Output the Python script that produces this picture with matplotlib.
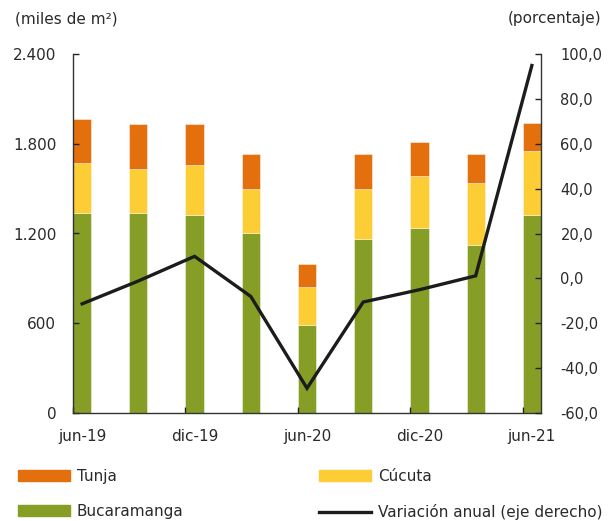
import matplotlib
matplotlib.use("Agg")
import matplotlib.pyplot as plt
import numpy as np
from matplotlib.patches import Patch
from matplotlib.lines import Line2D

categories = ["jun-19", "sep-19", "dic-19", "mar-20", "jun-20", "sep-20", "dic-20", "mar-21", "jun-21"]
bucaramanga = [1340, 1340, 1325, 1205, 590, 1165, 1235, 1125, 1325]
cucuta = [335, 295, 335, 295, 255, 335, 350, 415, 430]
tunja = [295, 295, 270, 230, 150, 230, 225, 190, 185]
variacion = [-11.4, -1.2, 9.8, -8.1, -49.1, -10.6, -5.1, 1.1, 95.0]

left_ticks = [0, 600, 1200, 1800, 2400]
left_labels = ["0", "600", "1.200", "1.800", "2.400"]
right_ticks = [-60, -40, -20, 0, 20, 40, 60, 80, 100]
right_labels = ["-60,0", "-40,0", "-20,0", "0,0", "20,0", "40,0", "60,0", "80,0", "100,0"]

c_tun = "#E3700D"
c_cuc = "#FDCD35"
c_buc = "#879E26"
c_line = "#1c1c1c"
c_text = "#2a2a2a"

plt.rcParams["font.family"] = ["DejaVu Sans"]
W, H = 614, 521
fig = plt.figure(figsize=(W / 100, H / 100), dpi=100)
ax = fig.add_axes([73 / W, (H - 412.7) / H, (541 - 73) / W, (412.7 - 54.3) / H])

x = np.arange(len(categories))
bw = 0.325
b = np.array(bucaramanga)
c = np.array(cucuta)
t = np.array(tunja)
kw = dict(width=bw, edgecolor=(1, 1, 1, 0.5), linewidth=0.6)
ax.bar(x, b, color=c_buc, **kw)
ax.bar(x, c, bottom=b, color=c_cuc, **kw)
ax.bar(x, t, bottom=b + c, color=c_tun, **kw)

half = bw / 2
ax.set_xlim(-half, len(categories) - 1 + half)
ax.set_ylim(0, 2400)
ax.set_yticks(left_ticks)
ax.set_yticklabels(left_labels)
ax.set_xticks(x[::2])
ax.set_xticklabels(categories[::2])
ax.set_xticks(x[::2] - half, minor=True)
ax.tick_params(axis="x", which="major", length=0, pad=12, labelsize=11, colors=c_text)
ax.tick_params(axis="x", which="minor", direction="in", length=4, width=1, color="#222222")
ax.tick_params(axis="y", direction="in", length=4, width=1, pad=12, labelsize=11, colors=c_text, color="#222222")

for s in ["top", "right"]:
    ax.spines[s].set_visible(False)
for s in ["left", "bottom"]:
    ax.spines[s].set_color("#333333")
    ax.spines[s].set_linewidth(1.0)

ax2 = ax.twinx()
ax2.plot(x, variacion, color=c_line, linewidth=2.4, solid_joinstyle="miter")
ax2.set_ylim(-60, 100)
ax2.set_yticks(right_ticks)
ax2.set_yticklabels(right_labels)
ax2.tick_params(axis="y", direction="in", length=4, width=1, pad=14, labelsize=10.5, colors=c_text, color="#222222")
for s in ["top", "left", "bottom"]:
    ax2.spines[s].set_visible(False)
ax2.spines["right"].set_color("#333333")
ax2.spines["right"].set_linewidth(1.0)

fig.text(15 / W, 1 - 19 / H, "(miles de m²)", fontsize=11, color=c_text, va="center", ha="left")
fig.text(601 / W, 1 - 19 / H, "(porcentaje)", fontsize=11, color=c_text, va="center", ha="right")

fs = 11
common = dict(frameon=False, fontsize=fs, handlelength=3.4, handleheight=0.7, handletextpad=0.45,
              labelspacing=1.32, borderpad=0, borderaxespad=0, labelcolor=c_text)
h1 = [Patch(color=c_tun, label="Tunja"), Patch(color=c_buc, label="Bucaramanga")]
h2 = [Patch(color=c_cuc, label="Cúcuta"), Line2D([], [], color=c_line, linewidth=2.4, label="Variación anual (eje derecho)")]
leg1 = fig.legend(handles=h1, loc="upper left", bbox_to_anchor=(18 / W, 1 - 469 / H), **common)
leg2 = fig.legend(handles=h2, loc="upper left", bbox_to_anchor=(319 / W, 1 - 469 / H), **common)

fig.savefig("out.png", dpi=100)
